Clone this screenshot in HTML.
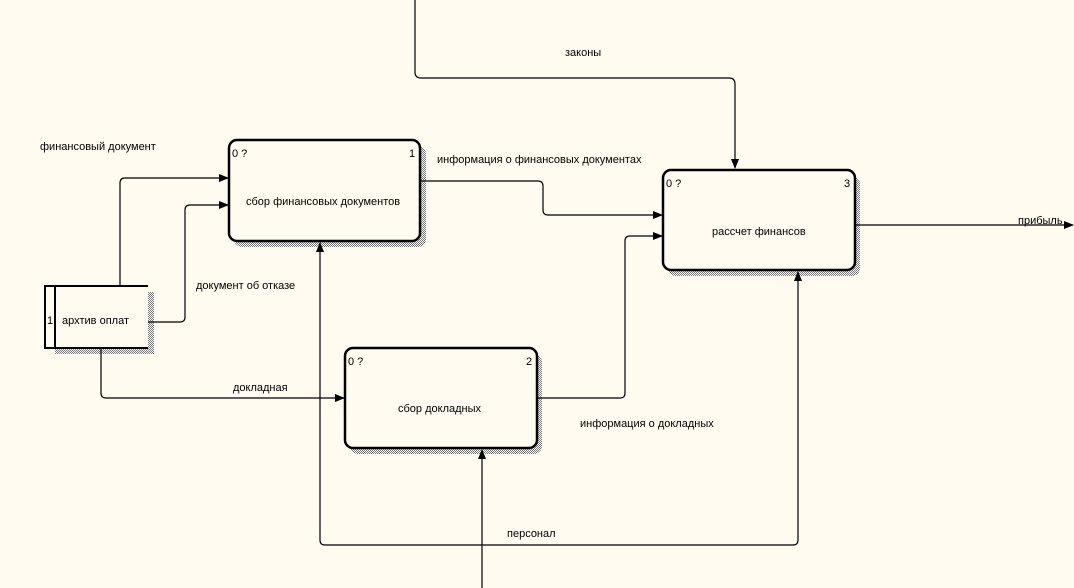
<!DOCTYPE html>
<html><head><meta charset="utf-8"><style>
html,body{margin:0;padding:0;background:#fffbf0;}
svg{display:block;}
text{font-family:"Liberation Sans","DejaVu Sans",sans-serif;font-size:11px;fill:#000;}
</style></head><body>
<svg width="1074" height="588" viewBox="0 0 1074 588" xmlns="http://www.w3.org/2000/svg">
<defs>
<pattern id="h" width="2" height="2" patternUnits="userSpaceOnUse">
<rect width="2" height="2" fill="#fffbf0"/><rect width="1" height="1" fill="#777"/><rect x="1" y="1" width="1" height="1" fill="#777"/>
</pattern>
<marker id="a" markerWidth="10" markerHeight="8" refX="9" refY="4" orient="auto" markerUnits="userSpaceOnUse">
<path d="M0,0 L10,4 L0,8 z" fill="#000"/></marker>
</defs>
<rect width="1074" height="588" fill="#fffbf0"/>
<!-- shadows -->
<rect x="234" y="146" width="192" height="101" rx="8" fill="url(#h)"/>
<rect x="668" y="176" width="192" height="100" rx="8" fill="url(#h)"/>
<rect x="350" y="354" width="192" height="100" rx="8" fill="url(#h)"/>
<rect x="55" y="292" width="99" height="62" fill="url(#h)"/>
<!-- boxes -->
<rect x="229" y="140" width="191" height="101" rx="8" fill="#fffbf0" stroke="#000" stroke-width="2.5"/>
<rect x="663" y="170" width="192" height="100" rx="8" fill="#fffbf0" stroke="#000" stroke-width="2.5"/>
<rect x="345" y="348" width="192" height="100" rx="8" fill="#fffbf0" stroke="#000" stroke-width="2.5"/>
<rect x="45" y="286" width="103" height="62" fill="#fffbf0"/>
<path d="M148,286 H45 V348 H148 M55,286 V348" fill="none" stroke="#000" stroke-width="2"/>
<g fill="none" stroke="#000" stroke-width="1.2">
<path d="M415,0 V72 Q415,78 421,78 H729 Q735,78 735,84 V168" marker-end="url(#a)"/>
<path d="M120,286 V183 Q120,178 125,178 H228" marker-end="url(#a)"/>
<path d="M148,322 H180 Q185,322 185,317 V210 Q185,205 190,205 H228" marker-end="url(#a)"/>
<path d="M420,181 H538 Q543,181 543,186 V210 Q543,215 548,215 H662" marker-end="url(#a)"/>
<path d="M537,398 H620 Q625,398 625,393 V241 Q625,236 630,236 H662" marker-end="url(#a)"/>
<path d="M855,225 H1073" marker-end="url(#a)"/>
<path d="M101,348 V393 Q101,398 106,398 H344" marker-end="url(#a)"/>
<path d="M482,588 V450" marker-end="url(#a)"/>
<path d="M482,545 H325 Q320,545 320,540 V243" marker-end="url(#a)"/>
<path d="M482,545 H793 Q798,545 798,540 V272" marker-end="url(#a)"/>
</g>
<text x="232" y="157" font-size="10">0 ?</text><text x="409" y="157" font-size="10">1</text>
<text x="666" y="187" font-size="10">0 ?</text><text x="844" y="187" font-size="10">3</text>
<text x="348" y="365" font-size="10">0 ?</text><text x="526" y="365" font-size="10">2</text>
<text x="47" y="324">1</text>
<text x="62" y="324">архтив оплат</text>
<text x="246" y="205">сбор финансовых документов</text>
<text x="712" y="235">рассчет финансов</text>
<text x="398" y="412">сбор докладных</text>
<text x="565" y="56">законы</text>
<text x="40" y="150">финансовый документ</text>
<text x="196" y="289">документ об отказе</text>
<text x="437" y="163">информация о финансовых документах</text>
<text x="580" y="427">информация о докладных</text>
<text x="1018" y="224">прибыль</text>
<text x="233" y="391">докладная</text>
<text x="507" y="537">персонал</text>
</svg>
</body></html>
